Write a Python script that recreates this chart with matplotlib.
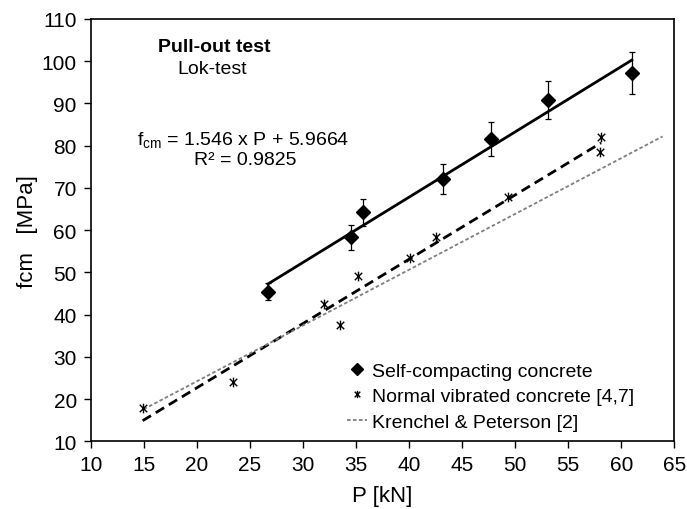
import numpy as np
import matplotlib
matplotlib.use("Agg")
import matplotlib.pyplot as plt
from matplotlib.path import Path

plt.rcParams['font.family'] = ['Liberation Sans', 'DejaVu Sans']
plt.rcParams['mathtext.fontset'] = 'custom'
plt.rcParams['mathtext.rm'] = 'Liberation Sans'
plt.rcParams['mathtext.it'] = 'Liberation Sans'

# DATA

# self-compacting concrete (mean and spread)
scc_p = [26.7, 34.5, 35.7, 43.2, 47.7, 53.1, 61.0]
scc_fc = [45.4, 58.3, 64.2, 72.1, 81.6, 90.9, 97.2]
scc_err = [2.0, 2.9, 3.2, 3.5, 4.1, 4.5, 4.9]

# normal vibrated concrete [4,7]
nvc_p = [14.9, 23.4, 32.0, 33.5, 35.2, 40.1, 42.5, 49.3, 58.1, 58.0]
nvc_fc = [17.8, 24.0, 42.5, 37.5, 49.2, 53.3, 58.4, 67.9, 82.1, 78.6]

# Krenchel & Peterson [2]
kp_p = [15.0, 63.9]
kp_fc = [17.6, 82.2]

# regression for SCC, as given in the chart
scc_slope = 1.546
scc_icpt = 5.9664
scc_r2 = 0.9825

x_ticks = np.arange(10, 66, 5)
y_ticks = np.arange(10, 111, 10)

# star marker like the spreadsheet one: an x with a vertical bar
star = Path([(-1, -1), (1, 1), (-1, 1), (1, -1), (0, -1.3), (0, 1.3)],
            [Path.MOVETO, Path.LINETO, Path.MOVETO, Path.LINETO, Path.MOVETO, Path.LINETO])

# PLOT

fig = plt.figure(figsize=(6.87, 5.10), dpi=100)
ax = fig.add_axes([0.132, 0.1327, 0.8495, 0.8281])

# fitted lines
fx = np.array([min(scc_p), max(scc_p)])
ax.plot(fx, scc_slope * fx + scc_icpt, color='black', lw=2, zorder=2)

k, b = np.polyfit(nvc_p, nvc_fc, 1)
nx = np.array([min(nvc_p), max(nvc_p)])
ax.plot(nx, k * nx + b, color='black', lw=2, ls=(0, (3.5, 2)), zorder=2)

ax.plot(kp_p, kp_fc, color='#7f7f7f', lw=1.3, ls=(0, (2, 1.3)), zorder=2,
        label='Krenchel & Peterson [2]')

ax.errorbar(scc_p, scc_fc, yerr=scc_err, fmt='none', ecolor='black',
            elinewidth=0.9, capsize=2.5, capthick=0.9, zorder=3)
ax.plot(scc_p, scc_fc, ls='none', marker='D', ms=7.5, color='black', zorder=4,
        label='Self-compacting concrete')
ax.plot(nvc_p, nvc_fc, ls='none', marker=star, ms=7, mew=1.0, color='black',
        zorder=4, label='Normal vibrated concrete [4,7]')

ax.set_xlim(10, 65)
ax.set_ylim(10, 110)
ax.set_xticks(x_ticks)
ax.set_yticks(y_ticks)
ax.tick_params(direction='out', length=5, width=1, labelsize=15, pad=5)
for s in ax.spines.values():
    s.set_linewidth(1.2)

ax.set_xlabel('P [kN]', fontsize=16, labelpad=8)
ax.set_ylabel('fcm   [MPa]', fontsize=16, labelpad=2.5)

ax.text(0.211, 0.934, 'Pull-out test', transform=ax.transAxes, ha='center',
        va='center', fontsize=14, fontweight='bold')
ax.text(0.209, 0.882, 'Lok-test', transform=ax.transAxes, ha='center',
        va='center', fontsize=14)
ax.text(0.262, 0.716, 'f$_{\\mathregular{cm}}$ = %.3f x P + %.4f' % (scc_slope, scc_icpt),
        transform=ax.transAxes, ha='center', va='center', fontsize=14)
ax.text(0.264, 0.667, 'R² = %.4f' % scc_r2, transform=ax.transAxes,
        ha='center', va='center', fontsize=14)

h, l = ax.get_legend_handles_labels()
order = [1, 2, 0]
ax.legend([h[i] for i in order], [l[i] for i in order], loc='lower right',
          bbox_to_anchor=(0.962, -0.016), frameon=False, fontsize=14,
          handlelength=1.0, handletextpad=0.3, labelspacing=0.4, borderpad=0.4,
          markerscale=0.75)

fig.savefig('out.png', dpi=100)
